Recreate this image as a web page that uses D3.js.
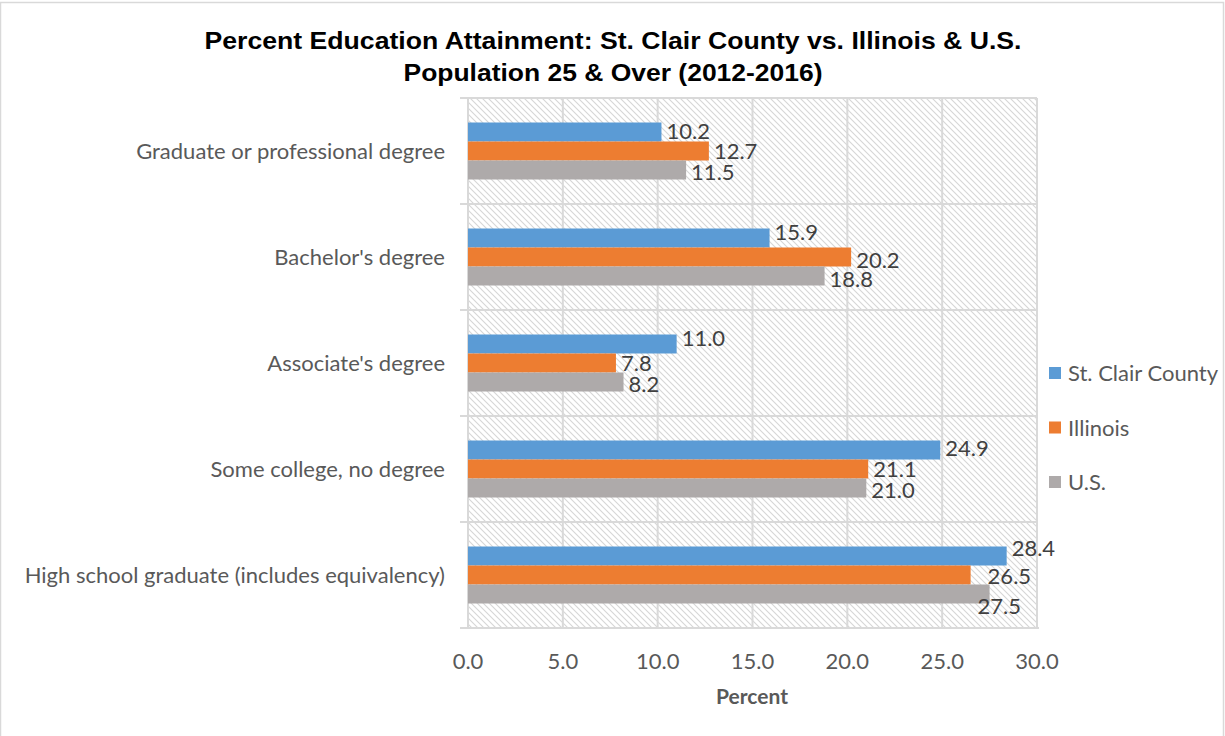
<!DOCTYPE html>
<html>
<head>
<meta charset="utf-8">
<script src="https://cdn.jsdelivr.net/npm/d3@7"></script>
<style>
  html, body { margin: 0; padding: 0; background: #fff; }
  svg { display: block; }
</style>
</head>
<body>
<svg id="chart" width="1225" height="736"></svg>
<script>
// Education attainment, population 25 & over (2012-2016)
const categories = [
  "Graduate or professional degree",
  "Bachelor's degree",
  "Associate's degree",
  "Some college, no degree",
  "High school graduate (includes equivalency)"
];
const seriesNames = ["St. Clair County", "Illinois", "U.S."];
const stClair  = [10.2, 15.9, 11.0, 24.9, 28.4];
const illinois = [12.7, 20.2, 7.8, 21.1, 26.5];
const us       = [11.5, 18.8, 8.2, 21.0, 27.5];
const xTicks = [0, 5, 10, 15, 20, 25, 30];

const colors = ["#5b9bd5", "#ed7d31", "#aeaaaa"];
const seriesValues = [stClair, illinois, us];

// hand-placed nudges for value labels that would otherwise crowd each other
// [category index][series index] -> [dx, dy]
const labelNudge = [
  [[0, -1], [0, 0], [0, 1.5]],
  [[0, -6], [0, 3], [0, 2.5]],
  [[0, -6.5], [0, 0], [0, 2]],
  [[0, -2], [0, 0], [0, 2]],
  [[0, -8], [12, 1], [-17, 12]]
];

const FONT = "Lato, 'Open Sans', sans-serif";
const svg = d3.select("#chart");
const W = 1225, H = 736;

// outer chart border
svg.append("rect")
  .attr("x", 0.5).attr("y", 2.5).attr("width", W - 2).attr("height", H)
  .attr("fill", "#fff").attr("stroke", "#d9d9d9").attr("stroke-width", 1.5);

const plot = { left: 468, right: 1037, top: 98, bottom: 628 };

// diagonal hatch fill for the plot area
const defs = svg.append("defs");
const pat = defs.append("pattern")
  .attr("id", "hatch").attr("patternUnits", "userSpaceOnUse")
  .attr("width", 6).attr("height", 6);
pat.append("rect").attr("width", 6).attr("height", 6).attr("fill", "#fff");
pat.append("path").attr("d", "M-1,-1 L7,7 M-1,5 L1,7 M5,-1 L7,1")
  .attr("stroke", "#d6d6d6").attr("stroke-width", 1.1);

svg.append("rect")
  .attr("x", plot.left).attr("y", plot.top)
  .attr("width", plot.right - plot.left).attr("height", plot.bottom - plot.top)
  .attr("fill", "url(#hatch)");

const x = d3.scaleLinear().domain([0, 30]).range([plot.left, plot.right]);
const y = d3.scaleBand().domain(categories).range([plot.top, plot.bottom]).paddingInner(0).paddingOuter(0);
const groupH = 57;
const ySub = d3.scaleBand().domain(seriesNames).range([0, groupH]).padding(0);

// vertical gridlines
svg.append("g").selectAll("line").data(xTicks.slice(1)).join("line")
  .attr("x1", d => x(d)).attr("x2", d => x(d))
  .attr("y1", plot.top).attr("y2", plot.bottom)
  .attr("stroke", "#d9d9d9").attr("stroke-width", 2);

// category separators with outward ticks
const seps = categories.map(c => y(c));
svg.append("g").selectAll("line").data(seps).join("line")
  .attr("x1", plot.left - 8).attr("x2", plot.right)
  .attr("y1", d => d).attr("y2", d => d)
  .attr("stroke", "#d9d9d9").attr("stroke-width", 2);

// value axis baseline and category axis line
svg.append("line")
  .attr("x1", plot.left - 8).attr("x2", plot.right + 2)
  .attr("y1", plot.bottom).attr("y2", plot.bottom)
  .attr("stroke", "#d9d9d9").attr("stroke-width", 2);
svg.append("line")
  .attr("x1", plot.left).attr("x2", plot.left)
  .attr("y1", plot.top).attr("y2", plot.bottom)
  .attr("stroke", "#d9d9d9").attr("stroke-width", 2);

// bars and value labels
const rows = [];
categories.forEach((c, i) => {
  seriesNames.forEach((s, j) => rows.push({ cat: c, i, series: s, j, value: seriesValues[j][i] }));
});
const groupTop = c => y(c) + (y.bandwidth() - groupH) / 2;

svg.append("g").selectAll("rect").data(rows).join("rect")
  .attr("x", x(0))
  .attr("y", d => groupTop(d.cat) + ySub(d.series))
  .attr("width", d => x(d.value) - x(0))
  .attr("height", ySub.bandwidth())
  .attr("fill", d => colors[d.j]);

svg.append("g").selectAll("text").data(rows).join("text")
  .attr("x", d => x(d.value) + 5 + labelNudge[d.i][d.j][0])
  .attr("y", d => groupTop(d.cat) + ySub(d.series) + ySub.bandwidth() / 2 + 8 + labelNudge[d.i][d.j][1])
  .attr("font-family", FONT)
  .attr("font-size", 22).attr("fill", "#404040")
  .text(d => d.value.toFixed(1));

// category labels
svg.append("g").selectAll("text").data(categories).join("text")
  .attr("x", 445)
  .attr("y", d => y(d) + y.bandwidth() / 2 + 7.5)
  .attr("text-anchor", "end")
  .attr("font-family", FONT)
  .attr("font-size", 22).attr("fill", "#595959")
  .text(d => d);

// x tick labels
svg.append("g").selectAll("text").data(xTicks).join("text")
  .attr("x", d => x(d)).attr("y", 669)
  .attr("text-anchor", "middle")
  .attr("font-family", FONT)
  .attr("font-size", 22).attr("fill", "#595959")
  .text(d => d.toFixed(1));

// axis title
svg.append("text")
  .attr("x", 752).attr("y", 704).attr("text-anchor", "middle")
  .attr("font-family", FONT)
  .attr("font-weight", "bold").attr("font-size", 21).attr("fill", "#595959")
  .text("Percent");

// chart title
const titleLines = [
  { t: "Percent Education Attainment: St. Clair County vs. Illinois & U.S.", y: 49, w: 817 },
  { t: "Population 25 & Over (2012-2016)", y: 81, w: 419 }
];
svg.append("g").selectAll("text").data(titleLines).join("text")
  .attr("x", 613).attr("y", d => d.y).attr("text-anchor", "middle")
  .attr("font-family", "'Liberation Sans', Arial, sans-serif")
  .attr("font-weight", "bold").attr("font-size", 24).attr("fill", "#000")
  .attr("textLength", d => d.w).attr("lengthAdjust", "spacingAndGlyphs")
  .text(d => d.t);

// legend
const legend = svg.append("g").selectAll("g").data(seriesNames).join("g")
  .attr("transform", (d, i) => `translate(1049, ${373 + i * 54.5})`);
legend.append("rect").attr("x", 0).attr("y", -6).attr("width", 12).attr("height", 12)
  .attr("fill", (d, i) => colors[i]);
legend.append("text").attr("x", 19).attr("y", 8)
  .attr("font-family", FONT)
  .attr("font-size", 22).attr("fill", "#595959")
  .text(d => d);
</script>
</body>
</html>
